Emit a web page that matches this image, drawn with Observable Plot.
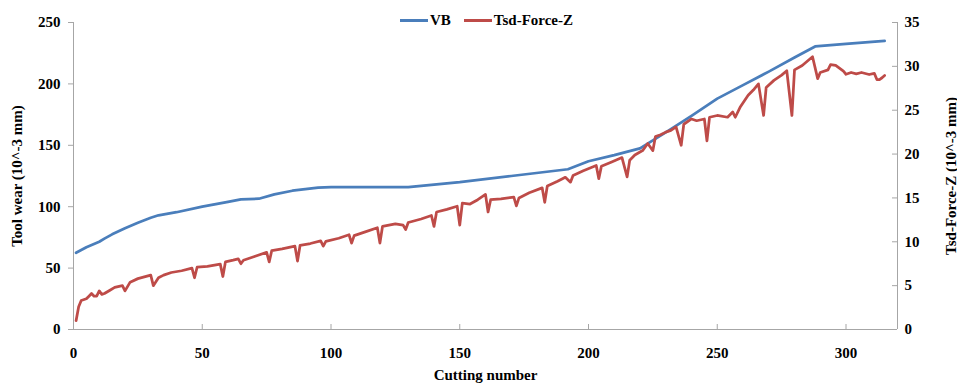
<!DOCTYPE html>
<html><head><meta charset="utf-8">
<script src="https://cdn.jsdelivr.net/npm/d3@7"></script>
<script src="https://cdn.jsdelivr.net/npm/@observablehq/plot@0.6"></script>
<style>
body{margin:0;background:#fff;}
#wrap{position:relative;width:957px;height:383px;font-family:"Liberation Serif","Times New Roman",serif;font-weight:bold;color:#000;}
#legend{position:absolute;top:11px;left:400px;display:flex;align-items:center;font-size:15px;line-height:18px;white-space:nowrap;}
.sw{display:inline-block;width:28px;height:3px;margin-right:2px;}
</style></head><body>
<div id="wrap">
  <div id="legend"><span class="sw" style="background:#4a7ebb"></span><span>VB</span><span class="sw" style="background:#be4b48;margin-left:13px"></span><span>Tsd-Force-Z</span></div>
</div>
<script>
// VB tool wear (10^-3 mm) vs cutting number
const vbCut  = [1,5,10,12,15,20,25,30,33,40,50,60,65,72,78,85,95,100,130,150,170,192,200,210,220,230,240,250,260,270,280,288,300,315];
const vbWear = [62.5,67,71.5,74,77.5,82.5,87,91,93,95.5,100,104,106,106.5,110,113,115.5,116,116,120,125,130.5,137,142,147.5,160.5,174,188,199,210,221.5,230.5,232.5,235];

// Tsd-Force-Z (10^-3 mm) vs cutting number
const forceCut = [1,2,3,5,6,7,8,9,10,11,12,14,16,19,20,22,25,30,31,33,35,38,42,46,47,48,52,57,58,59,62,64,65,66,70,75,76,77,81,86,87,88,92,96,97,98,103,107,108,109,113,118,119,120,125,128,129,130,135,139,140,141,145,149,150,151,154,157,160,161,162,166,171,172,173,177,182,183,184,188,191,193,194,198,203,204,205,209,213,215,216,218,221,223,225,226,228,230,232,234,236,237,240,242,245,246,247,250,254,256,257,259,262,264,266,268,269,272,275,277,279,280,283,287,289,290,293,294,296,299,300,302,304,306,309,311,312,313,314,315];
const forceZ   = [1.0,2.6,3.3,3.5,3.8,4.1,3.8,3.8,4.4,4.0,4.1,4.45,4.8,5.0,4.4,5.4,5.8,6.2,5.0,5.9,6.2,6.5,6.7,7.0,5.9,7.1,7.2,7.45,6.04,7.7,7.9,8.05,7.5,7.9,8.3,8.8,7.7,9.0,9.2,9.5,7.8,9.6,9.8,10.1,9.5,10.05,10.4,10.8,9.85,10.7,11.1,11.6,9.85,11.75,12.05,11.9,11.4,12.2,12.6,13.0,11.75,13.4,13.7,14.05,11.9,14.4,14.3,14.8,15.4,13.4,14.8,14.9,15.1,14.1,15.0,15.6,16.15,14.5,16.35,16.9,17.35,16.8,17.55,18.1,18.7,17.2,18.6,19.1,19.6,17.4,19.3,19.9,20.4,21.2,20.4,22.0,22.2,22.5,22.7,23.1,21.0,23.4,24.0,23.8,24.0,21.5,24.2,24.4,24.2,24.8,24.2,25.4,26.7,27.3,28.0,24.4,27.6,28.4,29.0,29.5,24.4,29.6,30.1,31.1,28.6,29.3,29.6,30.2,30.1,29.45,29.1,29.3,29.15,29.3,29.07,29.2,28.5,28.5,28.7,28.96];

const xTicks = [0,50,100,150,200,250,300];
const leftTicks = [0,50,100,150,200,250];
const rightTicks = [0,5,10,15,20,25,30,35];
const seriesNames = ["VB","Tsd-Force-Z"];

const W=957,H=383,ML=73,MR=60,MT=22,MB=54;
const k = 250/35; // right axis -> left axis units
const axisColor = "#a6a6a6";
const vb = vbCut.map((c,i)=>({c, v: vbWear[i]}));
const fz = forceCut.map((c,i)=>({c, v: forceZ[i]}));

const chart = Plot.plot({
  width:W, height:H, marginLeft:ML, marginRight:MR, marginTop:MT, marginBottom:MB,
  style:{fontFamily:'"Liberation Serif","Times New Roman",serif', fontSize:"15px", fontWeight:"bold", color:"#000", background:"#fff", overflow:"visible"},
  x:{domain:[0,320]},
  y:{domain:[0,250]},
  marks:[
    Plot.ruleX([0,320],{stroke:axisColor}),
    Plot.ruleY([0],{stroke:axisColor}),
    Plot.tickX(xTicks,{x:d=>d, stroke:axisColor, insetTop:(H-MT-MB)-5}),
    Plot.tickY(rightTicks,{y:d=>d*k, stroke:axisColor, insetLeft:(W-ML-MR)-5}),
    Plot.axisX({ticks:xTicks, tickSize:0, tickPadding:18, label:"Cutting number", labelAnchor:"center", labelArrow:"none", labelOffset:50}),
    Plot.axisY({ticks:leftTicks, tickSize:5, tickPadding:8, stroke:axisColor, label:"Tool wear (10^-3 mm)", labelAnchor:"center", labelArrow:"none", labelOffset:62}),
    Plot.axisY({anchor:"right", ticks:rightTicks.map(t=>t*k), tickFormat:d=>String(Math.round(d/k)), tickSize:0, tickPadding:7, label:"Tsd-Force-Z (10^-3 mm)", labelAnchor:"center", labelArrow:"none", labelOffset:58}),
    Plot.line(vb,{x:"c", y:"v", stroke:"#4a7ebb", strokeWidth:2.75}),
    Plot.line(fz,{x:"c", y:d=>d.v*k, stroke:"#be4b48", strokeWidth:2.75})
  ]
});
document.getElementById("wrap").prepend(chart);
</script>
</body></html>
